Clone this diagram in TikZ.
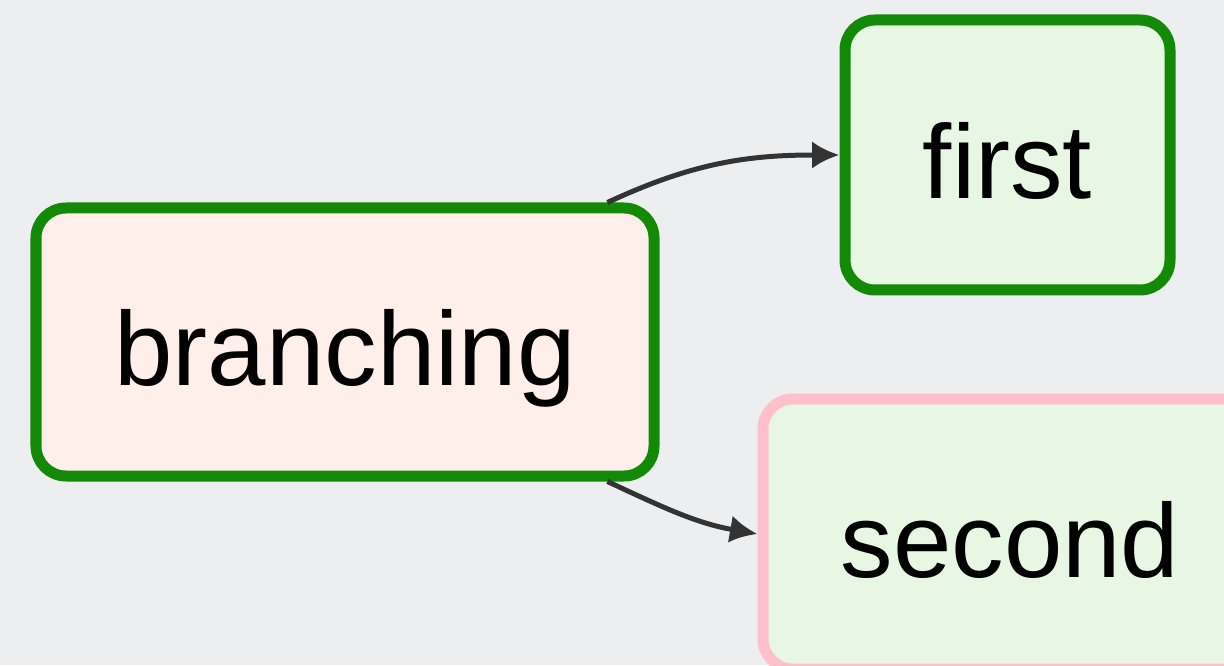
\documentclass[tikz,border=0pt]{standalone}
\usepackage{fontspec}
\setmainfont{Liberation Sans}
\usepackage{xcolor}
\usepackage{tikz}
\usetikzlibrary{arrows.meta, positioning}

\definecolor{canvas}{RGB}{236,238,240}
\definecolor{branchfill}{HTML}{FFEFEB}
\definecolor{dummyfill}{HTML}{E8F7E4}
\definecolor{success}{HTML}{138A07}
\definecolor{skipped}{HTML}{FFC0CB}
\definecolor{edgegray}{HTML}{333333}

\begin{document}
\begin{tikzpicture}[
    every node/.style={align=center, font=\fontsize{59.75}{70}\selectfont,
                       text height=49pt, text depth=0pt},
    task/.style={draw, rounded corners=0.6cm, line width=0.22cm,
                 minimum height=5.4cm, inner sep=0pt},
    edge/.style={-{Latex[length=5.5mm, width=5.5mm]}, line width=0.1cm, edgegray}
]
\fill[canvas] (0,0) rectangle (24.48,13.3);
\clip (0,0) rectangle (24.48,13.3);
\node[task, fill=branchfill, draw=success, minimum width=12.36cm,
      minimum height=5.36cm] (branching) at (6.90,6.46) {branching};
\node[task, fill=dummyfill, draw=success, minimum width=6.5cm] (first) at (20.15,10.2) {first};
\node[task, fill=dummyfill, draw=skipped, minimum width=9.88cm] (second) at (20.2,2.62) {second};
\draw[edge] (branching.28) to[out=25, in=180] (first.west);
\draw[edge] (branching.-28) to[out=-25, in=170] (second.west);
\end{tikzpicture}
\end{document}
